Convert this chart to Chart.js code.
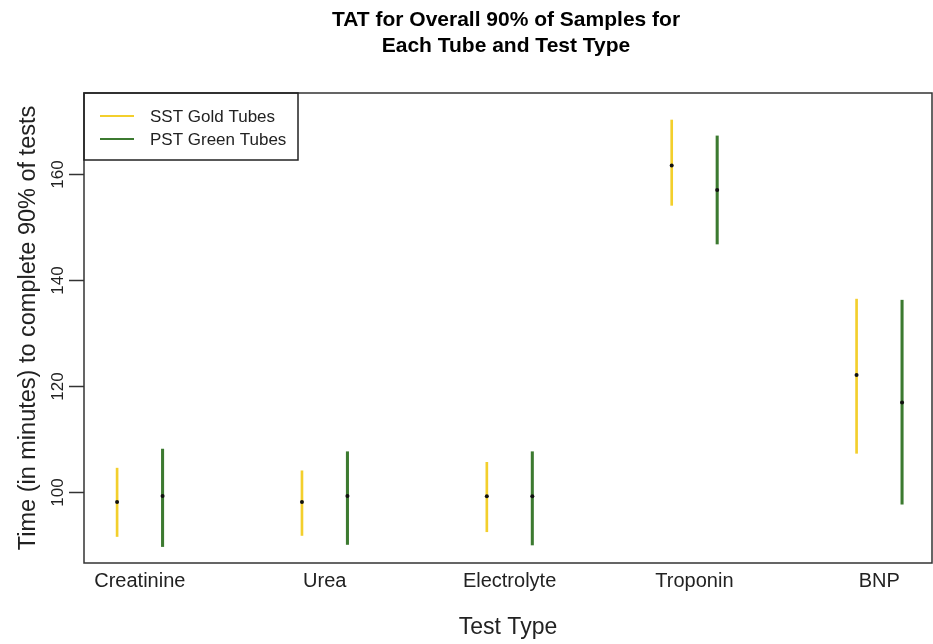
<!DOCTYPE html>
<html><head><meta charset="utf-8">
<script src="https://cdn.jsdelivr.net/npm/chart.js@4/dist/chart.umd.min.js"></script>
<style>html,body{margin:0;padding:0;background:#fff}#wrap{width:933px;height:644px;position:relative}canvas{display:block}</style>
</head><body><div id="wrap"><canvas id="c" width="933" height="644" style="width:933px;height:644px"></canvas></div>
<script>
// ---- data ----
const categories = ['Creatinine', 'Urea', 'Electrolyte', 'Troponin', 'BNP'];
const seriesNames = ['SST Gold Tubes', 'PST Green Tubes'];
const goldLow   = [91.6, 91.8, 92.5, 154.1, 107.3];
const goldHigh  = [104.5, 104.0, 105.6, 170.2, 136.4];
const goldMid   = [98.1, 98.1, 99.2, 161.6, 122.1];
const greenLow  = [89.7, 90.1, 90.0, 146.8, 97.7];
const greenHigh = [108.1, 107.6, 107.6, 167.2, 136.2];
const greenMid  = [99.25, 99.25, 99.2, 157.0, 116.9];
const yTicks = [100, 120, 140, 160];
const titleLines = ['TAT for Overall 90% of Samples for', 'Each Tube and Test Type'];
const xTitle = 'Test Type';
const yTitle = 'Time (in minutes) to complete 90% of tests';

const GOLD = '#F3CF2C', GREEN = '#3C7A30';
const OFF = 0.123;
const FONT = "'Liberation Sans', Arial, sans-serif";

const pos = (i, d) => i + 1 + d;
const bars = (lo, hi, d) => lo.map((v, i) => ({ x: pos(i, d), y: [v, hi[i]] }));
const pts = (mid, d) => mid.map((v, i) => ({ x: pos(i, d), y: v }));

const extras = {
  id: 'extras',
  afterDraw(chart) {
    const { ctx, chartArea: a, scales } = chart;
    ctx.save();
    // plot box
    ctx.strokeStyle = '#333'; ctx.lineWidth = 1.5;
    ctx.strokeRect(a.left, a.top, a.right - a.left, a.bottom - a.top);
    // title
    ctx.fillStyle = '#000';
    ctx.font = `bold 21px ${FONT}`;
    ctx.textAlign = 'center'; ctx.textBaseline = 'middle';
    const cx = (a.left + a.right) / 2 - 2;
    titleLines.forEach((t, i) => ctx.fillText(t, cx, 20 + i * 26));
    // y tick marks + rotated labels
    ctx.font = `17px ${FONT}`; ctx.fillStyle = '#222';
    yTicks.forEach(v => {
      const y = Math.round(scales.y.getPixelForValue(v)) + 0.5;
      ctx.strokeStyle = '#333'; ctx.lineWidth = 1.5;
      ctx.beginPath(); ctx.moveTo(a.left - 15, y); ctx.lineTo(a.left, y); ctx.stroke();
      ctx.save(); ctx.translate(58, y); ctx.rotate(-Math.PI / 2);
      ctx.fillText(String(v), 0, 0); ctx.restore();
    });
    // legend
    const lx = a.left, ly = a.top, lw = 214, lh = 67;
    ctx.strokeStyle = '#222'; ctx.lineWidth = 1.5;
    ctx.strokeRect(lx, ly, lw, lh);
    const cols = [GOLD, GREEN];
    ctx.font = `17px ${FONT}`; ctx.textAlign = 'left'; ctx.fillStyle = '#222';
    seriesNames.forEach((n, i) => {
      const yy = ly + 23 + i * 23;
      ctx.strokeStyle = cols[i]; ctx.lineWidth = 2;
      ctx.beginPath(); ctx.moveTo(lx + 16, yy); ctx.lineTo(lx + 50, yy); ctx.stroke();
      ctx.fillText(n, lx + 66, yy + 1);
    });
    ctx.restore();
  }
};

new Chart(document.getElementById('c'), {
  type: 'bar',
  data: {
    datasets: [
      { type: 'line', label: 'gold mid', data: pts(goldMid, -OFF), showLine: false, pointRadius: 2, pointBackgroundColor: '#111', pointBorderWidth: 0, order: 0 },
      { type: 'line', label: 'green mid', data: pts(greenMid, OFF), showLine: false, pointRadius: 2, pointBackgroundColor: '#111', pointBorderWidth: 0, order: 0 },
      { label: seriesNames[0], data: bars(goldLow, goldHigh, -OFF), backgroundColor: GOLD, barThickness: 2, grouped: false, borderWidth: 0, order: 1 },
      { label: seriesNames[1], data: bars(greenLow, greenHigh, OFF), backgroundColor: GREEN, barThickness: 2.4, grouped: false, borderWidth: 0, order: 1 }
    ]
  },
  options: {
    responsive: false,
    maintainAspectRatio: false,
    animation: false,
    devicePixelRatio: 1,
    layout: { autoPadding: false, padding: { top: 93, right: 1, left: 0, bottom: 0 } },
    plugins: { legend: { display: false }, tooltip: { enabled: false }, title: { display: false } },
    scales: {
      x: {
        type: 'linear', min: 0.698, max: 5.285, offset: false,
        afterBuildTicks: s => { s.ticks = categories.map((c, i) => ({ value: i + 1 })); },
        afterFit: s => { s.height = 81; s.paddingLeft = 0; s.paddingRight = 0; },
        ticks: { autoSkip: false, maxRotation: 0, padding: 6, color: '#222', font: { family: FONT, size: 20 }, callback: v => categories[Math.round(v) - 1] },
        grid: { display: false, drawTicks: false },
        border: { display: false },
        title: { display: true, text: xTitle, color: '#222', font: { family: FONT, size: 23 }, padding: { top: 0, bottom: 3 } }
      },
      y: {
        type: 'linear', min: 86.6, max: 175.3,
        afterBuildTicks: s => { s.ticks = yTicks.map(v => ({ value: v })); },
        afterFit: s => { s.width = 84; s.paddingTop = 0; s.paddingBottom = 0; },
        ticks: { display: false },
        grid: { display: false },
        border: { display: false },
        title: { display: true, text: yTitle, color: '#222', font: { family: FONT, size: 23.5 }, padding: { top: 14, bottom: 0 } }
      }
    }
  },
  plugins: [extras]
});
</script>
</body></html>
